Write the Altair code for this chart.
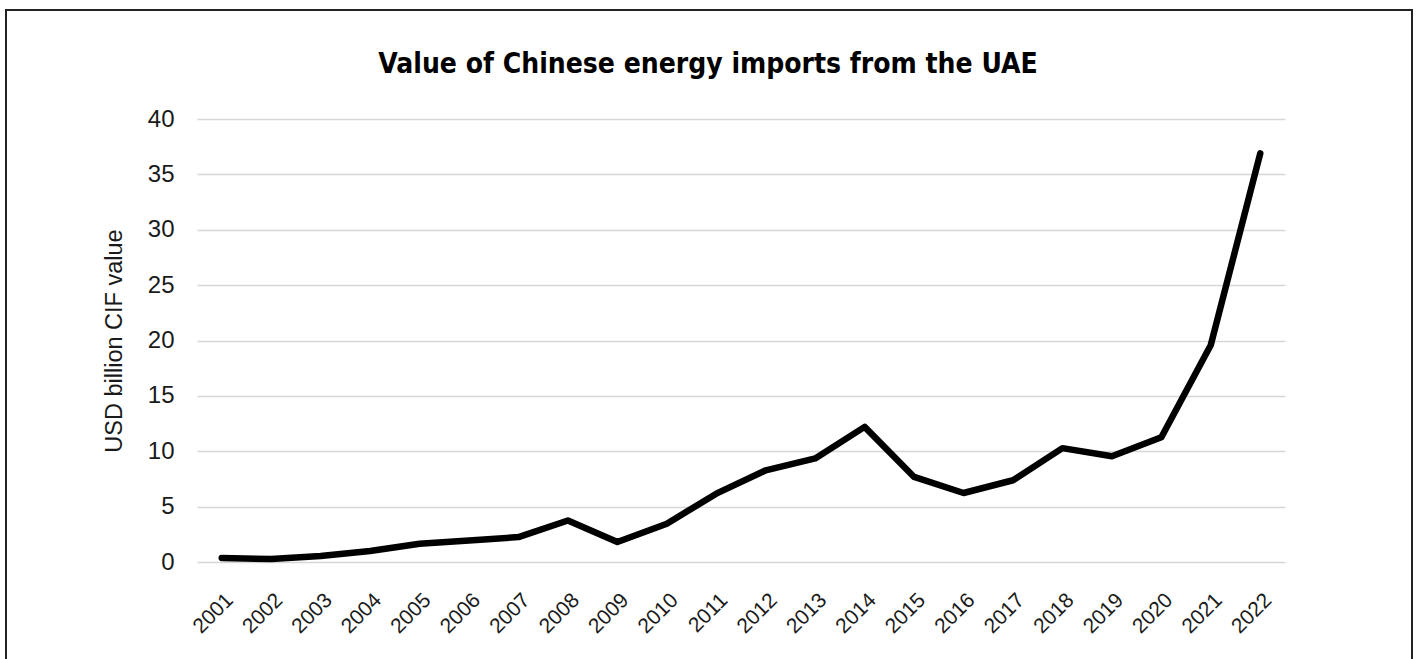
import altair as alt
import pandas as pd

years = [str(y) for y in range(2001, 2023)]
values = [0.36, 0.27, 0.55, 1.0, 1.65, 1.95, 2.25, 3.75, 1.8, 3.46, 6.17, 8.28,
          9.35, 12.2, 7.68, 6.23, 7.38, 10.28, 9.55, 11.26, 19.6, 36.9]
y_ticks = [0, 5, 10, 15, 20, 25, 30, 35, 40]
title_text = "Value of Chinese energy imports from the UAE"

df = pd.DataFrame({"year": years, "value": values})

base = alt.Chart(df)

line = base.mark_line(color="black", strokeWidth=6.5, strokeCap="round", strokeJoin="round").encode(
    x=alt.X("year:O", sort=years,
            scale=alt.Scale(type="point", padding=0.5),
            axis=alt.Axis(title=None, labelAngle=-45, labelFontSize=21, labelColor="#1a1a1a",
                          labelFont="Liberation Sans", ticks=False, domain=False,
                          labelPadding=27, grid=False)),
    y=alt.Y("value:Q", scale=alt.Scale(domain=[0, 40], nice=False),
            axis=alt.Axis(title="USD billion CIF value", values=y_ticks, titleFontSize=23.5,
                          titleFont="Liberation Sans", titleFontWeight="normal", titleColor="#1a1a1a",
                          titlePadding=21, labelFontSize=24, labelFont="Liberation Sans",
                          labelColor="#1a1a1a", labelPadding=23, ticks=False, domain=False,
                          grid=True, gridColor="#d6d6d6", gridWidth=1.6)),
)

frame = alt.Chart(pd.DataFrame({"k": [0]})).mark_rect(
    filled=False, stroke="#222", strokeWidth=2, clip=False
).encode(
    x=alt.value(-191), x2=alt.value(1215), y=alt.value(-109), y2=alt.value(620)
)

title = alt.Chart(pd.DataFrame({"t": [title_text]})).mark_text(
    font="DejaVu Sans Condensed", fontSize=28, fontWeight="bold", color="black",
    align="center", baseline="alphabetic", clip=False
).encode(
    text="t:N", x=alt.value(511), y=alt.value(-46)
)

chart = alt.layer(frame, title, line).properties(
    width=1088, height=443,
    padding={"left": 197, "top": 119, "right": 132, "bottom": 97},
    autosize=alt.AutoSizeParams(type="none"),
).configure(background="white").configure_view(strokeWidth=0, stroke=None)

chart.save("out.html", embed_options={"renderer": "svg", "actions": False})
